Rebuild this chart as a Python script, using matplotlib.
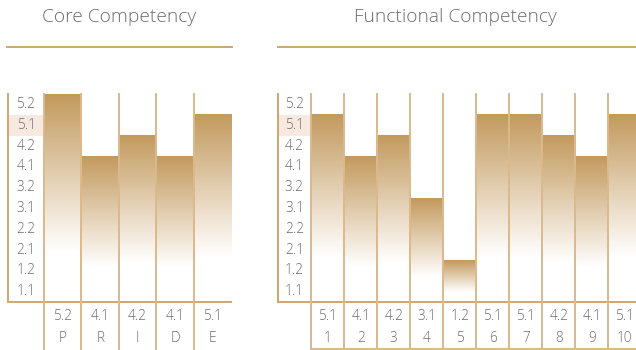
import numpy as np
import matplotlib
matplotlib.use("Agg")
import matplotlib.pyplot as plt
from matplotlib.colors import LinearSegmentedColormap

# ---- data ----
level_labels = ["1.1", "1.2", "2.1", "2.2", "3.1", "3.2", "4.1", "4.2", "5.1", "5.2"]
core_categories = ["P", "R", "I", "D", "E"]
core_values = ["5.2", "4.1", "4.2", "4.1", "5.1"]
func_categories = ["1", "2", "3", "4", "5", "6", "7", "8", "9", "10"]
func_values = ["5.1", "4.1", "4.2", "3.1", "1.2", "5.1", "5.1", "4.2", "4.1", "5.1"]
highlight_level = "5.1"

FONT = ["Open Sans", "DejaVu Sans"]
plt.rcParams['font.family'] = FONT
TEXT_C = "#6c6c6c"
LINE_C = "#d2a66c"
DIV_C = "#dcb98c"
BAR_C = "#c39a5e"
HL_C = "#f7e9df"

W, H = 636, 350
fig = plt.figure(figsize=(W / 100, H / 100), dpi=100)

cmap = LinearSegmentedColormap.from_list("g", [BAR_C, "#ffffff"])


def px(x0, y_top, w, h):
    return [x0 / W, (H - y_top - h) / H, w / W, h / H]


def panel(rect, label_w, cats, vals, title, title_cx, title_line, bottom_line):
    ax = fig.add_axes(rect)
    n = len(cats)
    for s in ["top", "right"]:
        ax.spines[s].set_visible(False)
    for s in ["left", "bottom"]:
        ax.spines[s].set_color(LINE_C)
        ax.spines[s].set_linewidth(1.4)
    ax.set_xticks([])
    ax.set_yticks([])
    ax.patch.set_alpha(0)

    # highlight row
    hi = level_labels.index(highlight_level)
    ax.fill_between([-label_w, 0], hi, hi + 1, color=HL_C, lw=0, zorder=0)
    # level labels
    for i, lab in enumerate(level_labels):
        ax.text(-label_w / 2, i + 0.5, lab, ha="center", va="center",
                fontsize=9.8, color=TEXT_C, fontweight="light")

    # gradient bars
    grad = np.linspace(0, 1, 256).reshape(-1, 1)
    g = np.clip(grad / 0.76, 0, 1)
    for i, v in enumerate(vals):
        h = level_labels.index(v) + 1
        ax.imshow(g, cmap=cmap, vmin=0, vmax=1, aspect="auto",
                  extent=(i, i + 1, 0, h), origin="upper",
                  interpolation="bilinear", zorder=1)

    # dividers
    tr = ax.get_xaxis_transform()
    ext = -48 / (rect[3] * H)
    for i in range(n):
        ax.plot([i, i], [1, ext], transform=tr, color=DIV_C, lw=1.4,
                clip_on=False, zorder=3)
    if bottom_line:
        bl = -46.5 / (rect[3] * H)
        ax.plot([0, n], [bl, bl], transform=tr, color=DIV_C, lw=1.4,
                clip_on=False, zorder=3)

    # table text
    for i, (c, v) in enumerate(zip(cats, vals)):
        ax.annotate(v, (i + 0.5, 0), xycoords=tr, xytext=(0, -10.2),
                    textcoords="offset points", ha="center", va="center",
                    fontsize=9.8, color=TEXT_C, fontweight="light")
        ax.annotate(c, (i + 0.5, 0), xycoords=tr, xytext=(0, -26),
                    textcoords="offset points", ha="center", va="center",
                    fontsize=9.8, color=TEXT_C, fontweight="light")

    ax.set_ylim(0, len(level_labels))
    ax.set_xlim(-label_w, n)

    fig.text(title_cx / W, 1 - 17 / H, title, ha="center", va="center",
             fontsize=13.8, color=TEXT_C, fontweight="light")
    x0, x1 = title_line
    fig.add_artist(plt.Line2D([x0 / W, x1 / W], [1 - 46.7 / H] * 2,
                              color=LINE_C, lw=1.4))
    return ax


# Core: axis at x=8, bars 44..231.3
core_bw = (231.3 - 44) / 5
panel(px(8, 94, 231.3 - 8, 208), (44 - 8) / core_bw,
      core_categories, core_values, "Core Competency", 119, (7, 231.7), False)

# Functional: axis at 277.5, bars 311.3..641.3
func_bw = 33.0
panel(px(277.5, 94, 641.3 - 277.5, 208), (311.3 - 277.5) / func_bw,
      func_categories, func_values, "Functional Competency", 455, (277.7, 636), True)

fig.savefig("out.png", dpi=100)
